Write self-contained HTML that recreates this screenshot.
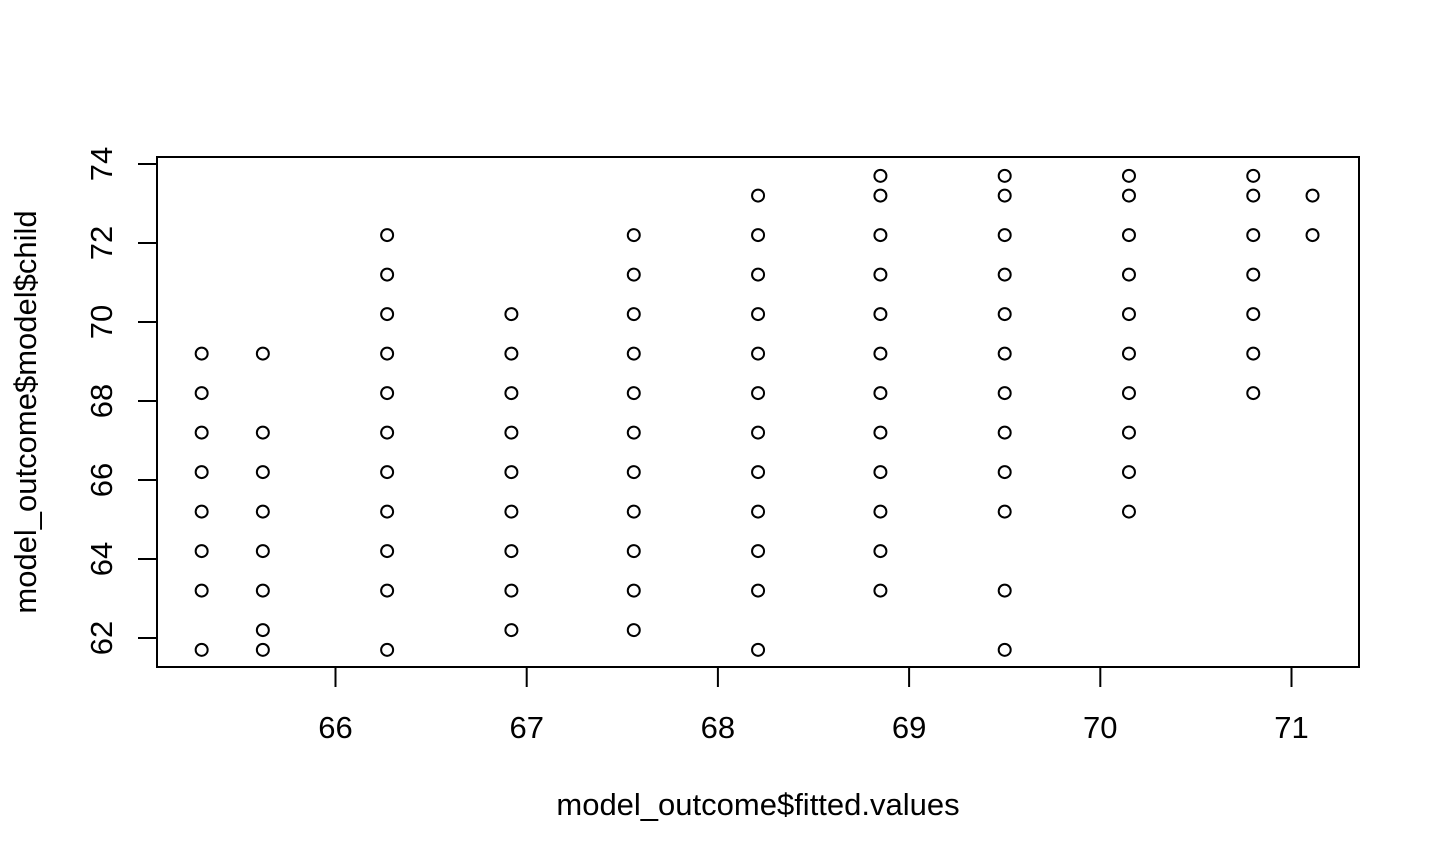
<!DOCTYPE html>
<html><head><meta charset="utf-8"><style>
html,body{margin:0;padding:0;background:#fff;}
svg{display:block;font-family:"Liberation Sans",Arial,sans-serif;}
</style></head><body>
<svg id="chart" width="1440" height="864" viewBox="0 0 1440 864" xmlns="http://www.w3.org/2000/svg">
<rect x="157" y="157" width="1202" height="510" fill="none" stroke="#000" stroke-width="2"/>
<g id="xaxis"></g>
<g id="yaxis"></g>
<g id="points"></g>
<text x="758" y="815" font-size="31" text-anchor="middle">model_outcome$fitted.values</text>
<text transform="translate(36,412) rotate(-90)" font-size="31" text-anchor="middle">model_outcome$model$child</text>
</svg>
<script>
const fittedX = [65.30, 65.62, 66.27, 66.92, 67.56, 68.21, 68.85, 69.50, 70.15, 70.80, 71.11];
const childY = [
 [69.2,68.2,67.2,66.2,65.2,64.2,63.2,61.7],
 [69.2,67.2,66.2,65.2,64.2,63.2,62.2,61.7],
 [72.2,71.2,70.2,69.2,68.2,67.2,66.2,65.2,64.2,63.2,61.7],
 [70.2,69.2,68.2,67.2,66.2,65.2,64.2,63.2,62.2],
 [72.2,71.2,70.2,69.2,68.2,67.2,66.2,65.2,64.2,63.2,62.2],
 [73.2,72.2,71.2,70.2,69.2,68.2,67.2,66.2,65.2,64.2,63.2,61.7],
 [73.7,73.2,72.2,71.2,70.2,69.2,68.2,67.2,66.2,65.2,64.2,63.2],
 [73.7,73.2,72.2,71.2,70.2,69.2,68.2,67.2,66.2,65.2,63.2,61.7],
 [73.7,73.2,72.2,71.2,70.2,69.2,68.2,67.2,66.2,65.2],
 [73.7,73.2,72.2,71.2,70.2,69.2,68.2],
 [73.2,72.2]
];
const xTicks = [66,67,68,69,70,71];
const yTicks = [62,64,66,68,70,72,74];
const NS="http://www.w3.org/2000/svg";
function sx(v){return 335.5+(v-66)*191.2;}
function sy(v){return 638-(v-62)*39.5;}
function mk(tag,attrs,parent){const e=document.createElementNS(NS,tag);for(const k in attrs)e.setAttribute(k,attrs[k]);parent.appendChild(e);return e;}
const xa=document.getElementById('xaxis'),ya=document.getElementById('yaxis'),pg=document.getElementById('points');
xTicks.forEach(t=>{
 const l=mk('line',{x1:sx(t),x2:sx(t),y1:667,y2:687,stroke:'#000','stroke-width':2},xa);
 
 
 const tx=mk('text',{x:sx(t),y:738,'font-size':31,'text-anchor':'middle'},xa);
 tx.textContent=t;
 
 
});
yTicks.forEach(t=>{
 const l=mk('line',{x1:138,x2:157,y1:sy(t),y2:sy(t),stroke:'#000','stroke-width':2},ya);
 
 
 const tx=mk('text',{transform:`translate(112,${sy(t)}) rotate(-90)`,'font-size':31,'text-anchor':'middle'},ya);
 tx.textContent=t;
 
 
});
fittedX.forEach((x,i)=>{
 childY[i].forEach(y=>{
  const c=mk('circle',{cx:sx(x),cy:sy(y),r:6,fill:'none',stroke:'#000','stroke-width':2},pg);
  
  
 });
});
</script>
</body></html>
